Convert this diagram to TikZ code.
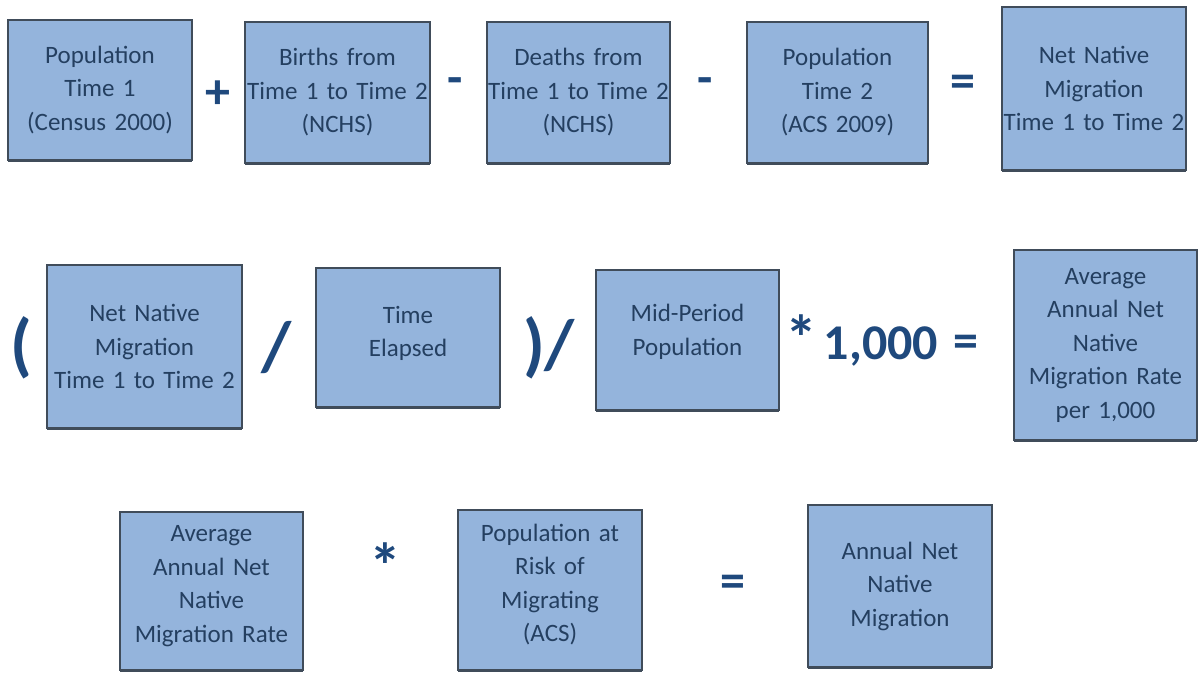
\documentclass[tikz,border=0pt]{standalone}
\usepackage{fontspec}
\setmainfont{Carlito}
\usepackage{tikz}
\usetikzlibrary{calc}

\definecolor{boxfill}{HTML}{94B4DC}
\definecolor{boxline}{HTML}{404C5A}
\definecolor{boxtext}{HTML}{243F60}
\definecolor{optext}{HTML}{1F497D}

% push the text of a box up a little
\newcommand{\liftby}[1]{\\[#1]\mbox{}}

\begin{document}
\begin{tikzpicture}[x=1pt,y=-1pt,
  termbox/.style={draw=boxline,fill=boxfill,line width=1.4pt,inner xsep=0pt,inner ysep=0pt,
    preaction={fill=boxline,transform canvas={yshift=-2pt}},
    align=center,text=boxtext,font=\fontsize{25}{33.5}\selectfont},
  opsign/.style={text=optext,inner sep=0pt,font=\bfseries\fontsize{50}{50}\selectfont},
  starsign/.style={text=optext,inner sep=0pt,font=\bfseries\fontsize{64}{64}\selectfont},
  bigsign/.style={text=optext,inner sep=0pt,font=\bfseries\fontsize{70}{70}\selectfont}]
\useasboundingbox (0,0) rectangle (1198,673);

% Row 1
\node[termbox,text width=184pt,minimum height=140pt] (pop1) at (100,90) {Population\\Time 1\\(Census 2000)};
\node[opsign] (plus) at (218,95) {+};
\node[termbox,text width=185pt,minimum height=141pt] (births) at (337.5,92.5) {Births from\\Time 1 to Time 2\\(NCHS)};
\node[opsign] (minusA) at (455,86) {-};
\node[termbox,text width=183pt,minimum height=141pt] (deaths) at (578.5,92.5) {Deaths from\\Time 1 to Time 2\\(NCHS)};
\node[opsign] (minusB) at (705,86) {-};
\node[termbox,text width=181pt,minimum height=141pt] (pop2) at (837.5,92.5) {Population\\Time 2\\(ACS 2009)};
\node[opsign] (eqA) at (963,86) {=};
\node[termbox,text width=184pt,minimum height=163pt] (netmig) at (1094,88.5) {Net Native\\Migration\\Time 1 to Time 2};

% Row 2
\node[bigsign] (lparen) at (21,348) {(};
\node[termbox,text width=195pt,minimum height=163pt] (netmigB) at (144.5,346.5) {Net Native\\Migration\\Time 1 to Time 2};
\node[bigsign] (slashA) at (277,348) {/};
\node[termbox,text width=184pt,minimum height=139pt] (elapsed) at (408,337.5) {Time\\Elapsed\liftby{-21pt}};
\node[bigsign] (rparen) at (549,348) {)/};
\node[termbox,text width=183pt,minimum height=140pt] (midpop) at (687.5,340) {Mid-Period\\Population\liftby{-13pt}};
\node[starsign] (timesA) at (801,338) {*};
\node[opsign] (thousand) at (881,346) {1,000};
\node[opsign] (eqB) at (966,346) {=};
\node[termbox,text width=183pt,minimum height=190pt] (ratek) at (1105.5,345) {Average\\Annual Net\\Native\\Migration Rate\\per 1,000};

% Row 3
\node[termbox,text width=183pt,minimum height=158pt] (rate) at (211.5,591) {Average\\Annual Net\\Native\\Migration Rate\liftby{-19pt}};
\node[starsign] (timesB) at (385,566) {*};
\node[termbox,text width=184pt,minimum height=160pt] (atrisk) at (550,590) {Population at\\Risk of\\Migrating\\(ACS)\liftby{-19pt}};
\node[opsign] (eqC) at (733,586) {=};
\node[termbox,text width=184pt,minimum height=162pt] (annual) at (900,586) {Annual Net\\Native\\Migration};

\end{tikzpicture}
\end{document}
